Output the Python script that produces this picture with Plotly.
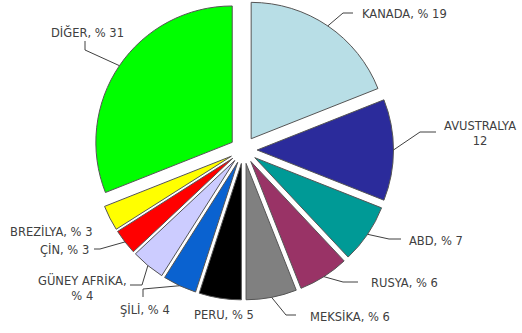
import math
import plotly.graph_objects as go

# ---- data ----
countries = ["KANADA", "AVUSTRALYA", "ABD", "RUSYA", "MEKSİKA", "PERU",
             "ŞİLİ", "GÜNEY AFRİKA", "ÇİN", "BREZİLYA", "DİĞER"]
shares = [19, 12, 7, 6, 6, 5, 4, 4, 3, 3, 31]
label_texts = ["KANADA, % 19", "AVUSTRALYA<br>12", "ABD, % 7", "RUSYA, % 6",
               "MEKSİKA, % 6", "PERU, % 5", "ŞİLİ, % 4", "GÜNEY AFRİKA,<br>% 4",
               "ÇİN, % 3", "BREZİLYA, % 3", "DİĞER, % 31"]
colors = ["#B8DEE6", "#2B2B9B", "#009A96", "#993366", "#808080", "#000000",
          "#0A62D0", "#CCCCFF", "#FF0000", "#FFFF00", "#00FF00"]

# ---- layout constants (pixels) ----
W, H = 522, 333
cx, cy = 243.5, 150.0
rmax = 150.0
pull = 0.1
r = rmax / (1 + pull)

# label centres (px) and leader-line elbows (px); None -> no leader
label_pos = [(404, 14), (480, 133), (436, 241), (404, 283), (350, 316), (224, 315),
             (145, 309), (82, 287), (64, 250), (51, 231), (87, 32)]
leader_elbows = [[(343, 13), (353, 13)],
                 [(420, 132), (436, 132)],
                 [(389, 239), (401, 239)],
                 [(343, 282), (358, 282)],
                 [(286, 315), (296, 315)],
                 None,
                 [(143, 289), (143, 297)],
                 [(142, 285), (130, 285)],
                 [(100, 249), (94, 249)],
                 None,
                 [(85, 50), (85, 41)]]

def px2paper(x, y):
    return x / W, 1 - y / H

fig = go.Figure(go.Pie(
    labels=countries, values=shares, sort=False, direction="clockwise",
    rotation=0, pull=pull, textinfo="none", hoverinfo="label+value",
    marker=dict(colors=colors, line=dict(color="#555555", width=1)),
    domain=dict(x=[(cx - rmax) / W, (cx + rmax) / W],
                y=[1 - (cy + rmax) / H, 1 - (cy - rmax) / H]),
    showlegend=False,
))

total = sum(shares)
annotations = []
shapes = []
cum = 0
for i, v in enumerate(shares):
    mid = (cum + v / 2) / total
    cum += v
    a = 2 * math.pi * mid
    ax_px = cx + rmax * math.sin(a)
    ay_px = cy - rmax * math.cos(a)
    lx, ly = label_pos[i]
    px, py = px2paper(lx, ly)
    annotations.append(dict(x=px, y=py, xref="paper", yref="paper", text=label_texts[i],
                            showarrow=False, xanchor="center", yanchor="middle",
                            font=dict(family="DejaVu Sans", size=11.5, color="#404040")))
    if leader_elbows[i]:
        pts = [(ax_px, ay_px)] + leader_elbows[i]
        path = ""
        for j, (x, y) in enumerate(pts):
            qx, qy = px2paper(x, y)
            path += ("M" if j == 0 else " L") + f"{qx:.5f},{qy:.5f}"
        shapes.append(dict(type="path", path=path, xref="paper", yref="paper",
                           line=dict(color="#404040", width=1)))

fig.update_layout(
    width=W, height=H, margin=dict(l=0, r=0, t=0, b=0),
    paper_bgcolor="white", plot_bgcolor="white",
    annotations=annotations, shapes=shapes,
)

fig.write_html("out.html")
